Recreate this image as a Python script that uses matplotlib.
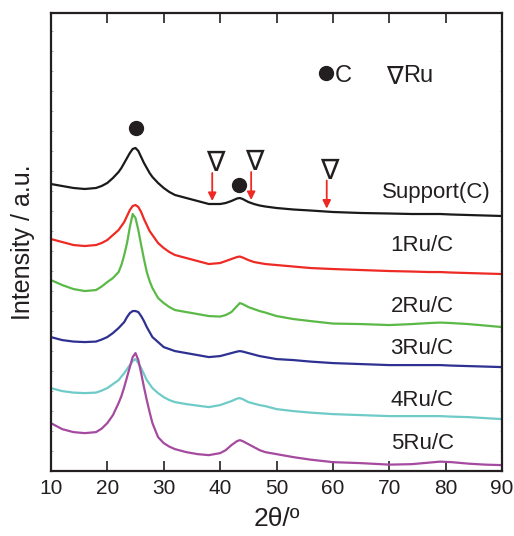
import numpy as np
import matplotlib
matplotlib.use('Agg')
import matplotlib.pyplot as plt

plt.rcParams['font.family'] = ['Liberation Sans', 'DejaVu Sans']

# 2theta sampling positions (degrees)
two_theta = [10, 12, 14, 16, 18, 19, 20, 21, 22, 22.5,
             23, 23.5, 24, 24.5, 25, 25.5, 26, 26.5, 27, 27.5,
             28, 29, 30, 31, 32, 34, 36, 38, 40, 41,
             42, 43, 43.5, 44, 45, 46, 47, 48, 50, 53,
             56, 60, 65, 70, 74, 77, 79, 81, 84, 87,
             90]

# stacked intensities (a.u.), already offset
support_c = [287, 285, 283, 282, 283, 285, 288, 293, 299, 303,
             308, 313, 318, 322, 323, 320, 314, 308, 303, 298,
             294, 288, 283, 279, 276, 273, 270, 267, 267, 268,
             270, 272.5, 273, 272, 269, 267, 265.5, 264.5, 263, 261.5,
             260.5, 259, 258, 257.5, 257, 257, 257, 256.5, 256, 255.5,
             255]
ru1_c = [232, 229, 226, 225, 226, 228, 231, 236, 241, 245,
         249, 255, 261, 265, 266, 264, 259, 252, 246, 240,
         236, 228, 223, 219, 216, 213, 210, 207, 208, 210,
         212, 214, 214.5, 213.5, 211, 209, 208, 207, 206, 204.5,
         203, 202, 201, 200, 199.5, 199, 199, 198.5, 198, 197.5,
         197]
ru2_c = [191, 186, 182, 180, 181, 184.5, 189, 193, 199, 206,
         216, 228, 244, 257, 253, 241, 226, 212, 199, 190,
         183, 173, 168, 164, 161, 159, 157, 155, 154.5, 156,
         159, 165, 168, 167, 164, 162, 160, 158.5, 155, 152,
         150, 147.5, 147, 146, 147, 148, 148.5, 148, 147, 145.5,
         144]
ru3_c = [134, 131, 129.5, 129, 129.5, 131.5, 134, 138, 143, 146,
         149, 154, 158, 160, 160, 159, 155, 150, 144, 139,
         134, 129, 124, 122, 120, 118, 116, 114, 115, 116.5,
         118, 119.5, 120, 119.5, 118, 116.5, 115, 114, 112, 111,
         109.5, 108, 107, 106, 106, 106, 106, 105.5, 105, 104.5,
         104]
ru4_c = [83, 80, 78.5, 78, 78.5, 80.5, 83, 87, 91, 94.5,
         98, 102, 106, 110, 112, 108, 103, 97, 91, 87,
         83, 78, 74, 71, 69, 67, 65.5, 64, 66, 68,
         70, 72.5, 73, 72, 69, 67.5, 66, 65, 62, 60,
         58.5, 57, 56, 55, 55, 55, 55, 54.5, 54, 53,
         52]
ru5_c = [48, 42, 39, 38, 39, 42.5, 48, 56, 68, 75,
         84, 94, 104, 114, 118, 111, 98, 84, 71, 59,
         48, 34, 28, 24.5, 22, 19, 17, 16, 18, 21,
         26, 30, 31, 30, 27, 24, 21, 19, 17, 14,
         11.5, 9, 8, 6.5, 7, 8.5, 9.5, 9, 7.5, 6.5,
         6]

series = [support_c, ru1_c, ru2_c, ru3_c, ru4_c, ru5_c]
names = ['Support(C)', '1Ru/C', '2Ru/C', '3Ru/C', '4Ru/C', '5Ru/C']
colors = ['#1a1a1a', '#ee2a24', '#5bb947', '#2e3192', '#6fcbc8', '#a54a9f']
label_x = [78.3, 75.8, 75.8, 75.8, 75.8, 75.8]
label_y = [278, 226, 165, 123, 71, 28]

# reflection positions marked on the support pattern
c_peaks = [25.0, 43.3]
c_heights = [343, 286]
ru_peaks = [38.6, 45.5, 58.9]

fig, ax = plt.subplots(figsize=(5.14, 5.36), dpi=100)
fig.subplots_adjust(left=0.099, right=0.977, bottom=0.121, top=0.975)

for y, name, c, lx, ly in zip(series, names, colors, label_x, label_y):
    ax.plot(two_theta, y, color=c, lw=1.6)
    ax.text(lx, ly, name, color='#231f20', fontsize=16, ha='center', va='center')

# carbon markers
ax.plot(c_peaks, c_heights, 'o', color='#231f20', ms=10, ls='none')

# Ru markers with red arrows pointing at the support curve
for p in ru_peaks:
    tip = np.interp(p, two_theta, support_c) + 3
    ax.annotate('', xy=(p, tip), xytext=(p, tip + 28),
                arrowprops=dict(arrowstyle='-|>', color='#ee2a24', lw=1.3,
                                mutation_scale=12, shrinkA=0, shrinkB=0))
    ax.text(p + 0.5, tip + 38, '\u2207', fontsize=20, ha='center', va='center',
            color='#231f20', family=['DejaVu Sans'])

# legend
ax.plot([58.8], [398], 'o', color='#231f20', ms=10)
ax.text(60.4, 395, 'C', fontsize=17, ha='left', va='center', color='#231f20')
ax.text(69.5, 395, '\u2207', fontsize=18, ha='left', va='center', color='#231f20',
        family=['DejaVu Sans'])
ax.text(72.5, 395, 'Ru', fontsize=17, ha='left', va='center', color='#231f20')

ax.set_xlim(10, 90)
ax.set_ylim(0, 457.5)
ax.set_xticks(range(10, 91, 10))
ax.set_yticks(range(0, 457, 20))
ax.set_yticklabels([])
ax.tick_params(axis='x', which='major', direction='in', length=7, width=1.2,
               labelsize=15, pad=6, top=True, colors='#231f20')
ax.tick_params(axis='y', direction='in', length=1.5, width=0.5, right=True,
               colors='#888888')
for s in ax.spines.values():
    s.set_linewidth(1.6)
    s.set_color('#231f20')

ax.set_xlabel('2\u03b8/\u00ba', fontsize=19, color='#231f20', labelpad=6)
ax.set_ylabel('Intensity / a.u.', fontsize=18, color='#231f20', labelpad=8)

fig.savefig('out.png', dpi=100)
